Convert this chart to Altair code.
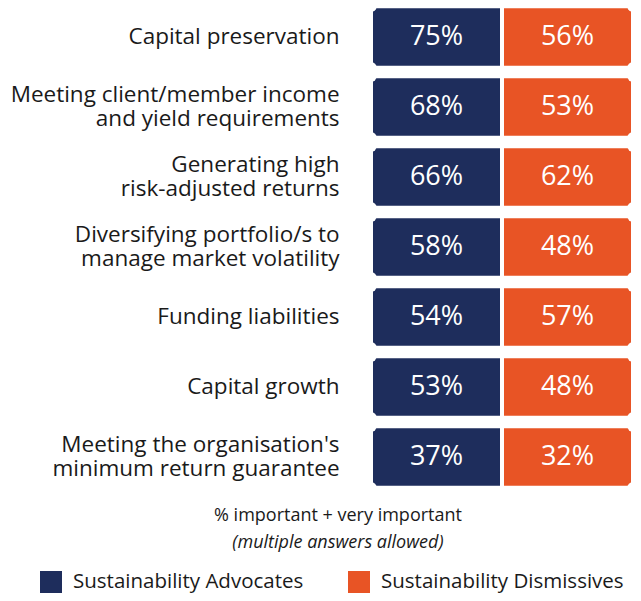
import altair as alt
import pandas as pd

labels = [
    "Capital preservation",
    "Meeting client/member income\nand yield requirements",
    "Generating high\nrisk-adjusted returns",
    "Diversifying portfolio/s to\nmanage market volatility",
    "Funding liabilities",
    "Capital growth",
    "Meeting the organisation's\nminimum return guarantee",
]
advocates = [75, 68, 66, 58, 54, 53, 37]
dismissives = [56, 53, 62, 48, 57, 48, 32]
groups = ["Sustainability Advocates", "Sustainability Dismissives"]
colors = ["#1e2d5c", "#e85425"]
footnote_main = "% important + very important"
footnote_italic = "(multiple answers allowed)"

FONT = "Open Sans"
HALF = 0.44
ROW_PX = 70.0
LINE_PX = 24.0

rows = []
for i, (lab, a, d) in enumerate(zip(labels, advocates, dismissives)):
    for j, (g, v) in enumerate(zip(groups, [a, d])):
        rows.append(dict(row=i, label=lab, group=g, col=j, value=v, text=f"{v}%"))
cells = pd.DataFrame(rows)

line_rows = []
for i, lab in enumerate(labels):
    parts = lab.split("\n")
    n = len(parts)
    for k, p in enumerate(parts):
        line_rows.append(dict(row=i, line=p, ly=i + (k - (n - 1) / 2) * LINE_PX / ROW_PX))
label_df = pd.DataFrame(line_rows)

notch_rows = []
for i in range(len(labels)):
    for cx in (0, 2):
        for dy in (-HALF, HALF):
            notch_rows.append(dict(nx=cx, ny=i + dy))
notches = pd.DataFrame(notch_rows)

xscale = alt.Scale(domain=[-2.771, 2], nice=False, zero=False)
yscale = alt.Scale(domain=[-0.4143, 7.9429], reverse=True, nice=False, zero=False)

base = alt.Chart(cells).transform_calculate(
    x1="datum.col", x2="datum.col + 1",
    y1=f"datum.row - {HALF}", y2=f"datum.row + {HALF}",
    xm="datum.col + 0.5",
)

rects = base.mark_rect(stroke="white", strokeWidth=4).encode(
    x=alt.X("x1:Q", scale=xscale, axis=None),
    x2="x2:Q",
    y=alt.Y("y1:Q", scale=yscale, axis=None),
    y2="y2:Q",
    color=alt.Color(
        "group:N",
        scale=alt.Scale(domain=groups, range=colors),
        legend=alt.Legend(
            title=None, orient="none", legendX=32, legendY=563,
            direction="horizontal", symbolType="square", symbolSize=484,
            labelFontSize=20.5, labelFont=FONT, labelColor="#1a1a1a",
            columnPadding=44, labelOffset=11, symbolStrokeWidth=0,
            symbolOpacity=1, labelLimit=400,
        ),
    ),
)

pct = base.mark_text(color="white", fontSize=27, font=FONT, align="center", baseline="middle").encode(
    x=alt.X("xm:Q", scale=xscale, axis=None),
    y=alt.Y("row:Q", scale=yscale, axis=None),
    text="text:N",
)

notch = alt.Chart(notches).mark_point(filled=True, shape="circle", color="white", opacity=1, size=130, strokeWidth=0).encode(
    x=alt.X("nx:Q", scale=xscale, axis=None),
    y=alt.Y("ny:Q", scale=yscale, axis=None),
)

lab = alt.Chart(label_df).mark_text(
    align="right", baseline="middle", fontSize=22.5, font=FONT, color="#1a1a1a"
).encode(
    x=alt.datum(-0.24, scale=xscale),
    y=alt.Y("ly:Q", scale=yscale, axis=None),
    text="line:N",
)

fn1 = alt.Chart(pd.DataFrame({"t": [footnote_main]})).mark_text(
    align="center", baseline="middle", fontSize=18, font=FONT, color="#1a1a1a"
).encode(x=alt.datum(-0.252, scale=xscale), y=alt.datum(6.843, scale=yscale), text="t:N")

fn2 = alt.Chart(pd.DataFrame({"t": [footnote_italic]})).mark_text(
    align="center", baseline="middle", fontSize=18, font=FONT, fontStyle="italic", color="#1a1a1a"
).encode(x=alt.datum(-0.252, scale=xscale), y=alt.datum(7.229, scale=yscale), text="t:N")

chart = alt.layer(rects, notch, pct, lab, fn1, fn2).properties(
    width=625, height=585, autosize=alt.AutoSizeParams(type="none"), padding=0
).configure_view(stroke=None)

chart.save("out.html", embed_options={"renderer": "svg", "actions": False})
